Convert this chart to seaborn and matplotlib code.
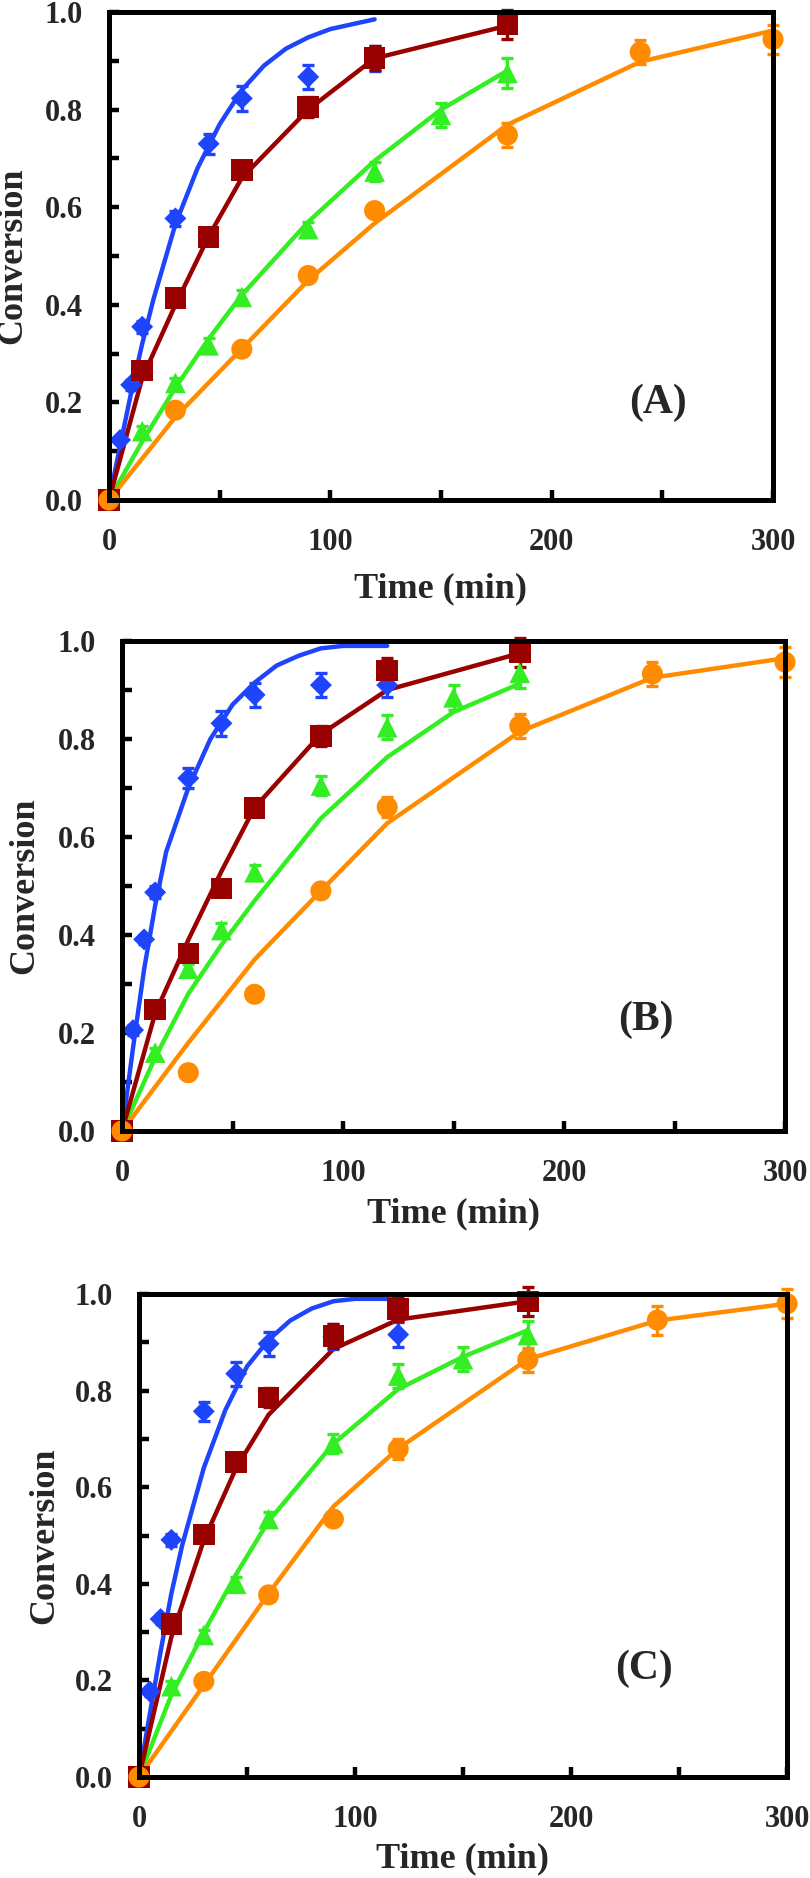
"""Conversion vs. time for three conditions (A, B, C): experimental points with error bars and model curves."""
import matplotlib

matplotlib.use("Agg")
import matplotlib.pyplot as plt
import pandas as pd
import seaborn as sns
from matplotlib.ticker import FormatStrFormatter, MultipleLocator

# ---- sampling times (min) ----
t_blue = [0, 5, 10, 15, 30, 45, 60, 90, 120]
t_red = [0, 15, 30, 45, 60, 90, 120, 180]
t_green = [0, 15, 30, 45, 60, 90, 120, 150, 180]
t_orange = [0, 30, 60, 90, 120, 180, 240, 300]

fit_t_blue = [0, 5, 10, 15, 20, 30, 40, 50, 60, 70, 80, 90, 100, 110, 120]
fit_t_red = t_red
fit_t_green = t_green
fit_t_orange = t_orange

# ---- panel A ----
a_blue = [0, 0.123, 0.236, 0.355, 0.577, 0.73, 0.823, 0.867, 0.905]
a_blue_err = [0, 0.005, 0.01, 0.012, 0.015, 0.02, 0.025, 0.025, 0.025]
a_blue_fit = [0, 0.11, 0.22, 0.32, 0.41, 0.565, 0.68, 0.77, 0.84, 0.89, 0.925, 0.948, 0.965, 0.975, 0.985]
a_red = [0, 0.265, 0.414, 0.539, 0.676, 0.805, 0.906, 0.974]
a_red_err = [0, 0.01, 0.01, 0.01, 0.015, 0.02, 0.025, 0.03]
a_red_fit = [0, 0.25, 0.40, 0.54, 0.66, 0.80, 0.905, 0.972]
a_green = [0, 0.141, 0.24, 0.317, 0.416, 0.555, 0.673, 0.789, 0.875]
a_green_err = [0, 0.01, 0.01, 0.015, 0.015, 0.015, 0.02, 0.025, 0.03]
a_green_fit = [0, 0.12, 0.23, 0.33, 0.42, 0.57, 0.695, 0.80, 0.88]
a_orange = [0, 0.184, 0.309, 0.46, 0.593, 0.748, 0.918, 0.944]
a_orange_err = [0, 0.01, 0.01, 0.01, 0.01, 0.025, 0.025, 0.03]
a_orange_fit = [0, 0.17, 0.31, 0.45, 0.567, 0.769, 0.898, 0.962]

# ---- panel B ----
b_blue = [0, 0.206, 0.391, 0.487, 0.72, 0.832, 0.89, 0.91, 0.91]
b_blue_err = [0, 0.01, 0.01, 0.012, 0.02, 0.025, 0.025, 0.025, 0.025]
b_blue_fit = [0, 0.17, 0.33, 0.46, 0.57, 0.70, 0.80, 0.87, 0.915, 0.95, 0.97, 0.985, 0.99, 0.99, 0.99]
b_red = [0, 0.248, 0.362, 0.495, 0.659, 0.806, 0.94, 0.977]
b_red_err = [0, 0.01, 0.01, 0.01, 0.015, 0.02, 0.025, 0.03]
b_red_fit = [0, 0.24, 0.39, 0.53, 0.66, 0.81, 0.90, 0.975]
b_green = [0, 0.16, 0.331, 0.41, 0.528, 0.705, 0.824, 0.885, 0.935]
b_green_err = [0, 0.01, 0.01, 0.015, 0.015, 0.02, 0.025, 0.025, 0.03]
b_green_fit = [0, 0.15, 0.28, 0.38, 0.47, 0.638, 0.763, 0.855, 0.913]
b_orange = [0, 0.119, 0.279, 0.49, 0.661, 0.827, 0.933, 0.957]
b_orange_err = [0, 0.005, 0.01, 0.01, 0.02, 0.025, 0.025, 0.03]
b_orange_fit = [0, 0.18, 0.35, 0.49, 0.628, 0.815, 0.925, 0.965]

# ---- panel C ----
c_blue = [0, 0.177, 0.327, 0.491, 0.757, 0.835, 0.897, 0.912, 0.916]
c_blue_err = [0, 0.01, 0.01, 0.012, 0.02, 0.025, 0.025, 0.025, 0.025]
c_blue_fit = [0, 0.13, 0.26, 0.38, 0.48, 0.64, 0.76, 0.85, 0.905, 0.945, 0.97, 0.985, 0.99, 0.99, 0.99]
c_red = [0, 0.317, 0.502, 0.652, 0.786, 0.913, 0.969, 0.984]
c_red_err = [0, 0.01, 0.01, 0.01, 0.02, 0.025, 0.025, 0.03]
c_red_fit = [0, 0.29, 0.49, 0.64, 0.75, 0.886, 0.947, 0.985]
c_green = [0, 0.188, 0.294, 0.40, 0.534, 0.691, 0.831, 0.865, 0.915]
c_green_err = [0, 0.01, 0.01, 0.015, 0.015, 0.02, 0.025, 0.025, 0.03]
c_green_fit = [0, 0.17, 0.30, 0.42, 0.53, 0.69, 0.803, 0.87, 0.925]
c_orange = [0, 0.198, 0.377, 0.534, 0.679, 0.864, 0.946, 0.98]
c_orange_err = [0, 0.01, 0.01, 0.01, 0.02, 0.025, 0.03, 0.03]
c_orange_fit = [0, 0.19, 0.38, 0.56, 0.68, 0.865, 0.945, 0.98]

panel_labels = ["(A)", "(B)", "(C)"]
label_xy = [(248, 0.2), (237, 0.227), (234, 0.224)]

BLUE = "#1f45fc"
RED = "#990000"
GREEN = "#33ee22"
ORANGE = "#ff8c00"

sns.set_style("ticks")
plt.rcParams["font.family"] = ["Liberation Serif", "DejaVu Serif"]
plt.rcParams["font.weight"] = "bold"

W, H = 810, 1878
fig = plt.figure(figsize=(W / 100, H / 100), dpi=100)

# axes boxes in pixels: left, right, top, bottom
boxes = [(109, 773, 12, 500), (122, 785, 641, 1131), (139, 787, 1294, 1777)]
ylab_x = [13, 25, 45]
xlab_y = [589, 1214, 1859]

# marker style per series: (marker, size)
mk_blue = ("D", 125)
mk_green = ("^", 220)
mk_red = ("s", 240)
mk_orange = ("o", 230)

panels = [
    [(t_blue, a_blue, a_blue_err, fit_t_blue, a_blue_fit, BLUE, mk_blue),
     (t_green, a_green, a_green_err, fit_t_green, a_green_fit, GREEN, mk_green),
     (t_red, a_red, a_red_err, fit_t_red, a_red_fit, RED, mk_red),
     (t_orange, a_orange, a_orange_err, fit_t_orange, a_orange_fit, ORANGE, mk_orange)],
    [(t_blue, b_blue, b_blue_err, fit_t_blue, b_blue_fit, BLUE, mk_blue),
     (t_green, b_green, b_green_err, fit_t_green, b_green_fit, GREEN, mk_green),
     (t_red, b_red, b_red_err, fit_t_red, b_red_fit, RED, mk_red),
     (t_orange, b_orange, b_orange_err, fit_t_orange, b_orange_fit, ORANGE, mk_orange)],
    [(t_blue, c_blue, c_blue_err, fit_t_blue, c_blue_fit, BLUE, mk_blue),
     (t_green, c_green, c_green_err, fit_t_green, c_green_fit, GREEN, mk_green),
     (t_red, c_red, c_red_err, fit_t_red, c_red_fit, RED, mk_red),
     (t_orange, c_orange, c_orange_err, fit_t_orange, c_orange_fit, ORANGE, mk_orange)],
]

for i, (box, series) in enumerate(zip(boxes, panels)):
    l, r, t, b = box
    ax = fig.add_axes([l / W, 1 - b / H, (r - l) / W, (b - t) / H])
    for tx, y, err, ft, fy, col, (mk, s) in series:
        fit = pd.DataFrame({"t": ft, "y": fy})
        sns.lineplot(data=fit, x="t", y="y", ax=ax, color=col, lw=3.2, zorder=2)
        ax.errorbar(tx, y, yerr=err, fmt="none", ecolor=col, elinewidth=2.4,
                    capsize=4.5, capthick=2.4, zorder=3, clip_on=False)
        sns.scatterplot(x=tx, y=y, ax=ax, marker=mk, s=s, color=col,
                        edgecolor="none", linewidth=0, zorder=4, clip_on=False)

    ax.set_xlim(0, 300)
    ax.set_ylim(0, 1)
    ax.xaxis.set_major_locator(MultipleLocator(100))
    ax.xaxis.set_minor_locator(MultipleLocator(50))
    ax.yaxis.set_major_locator(MultipleLocator(0.2))
    ax.yaxis.set_minor_locator(MultipleLocator(0.1))
    ax.yaxis.set_major_formatter(FormatStrFormatter("%.1f"))
    ax.xaxis.set_major_formatter(FormatStrFormatter("%d"))
    ax.tick_params(which="both", direction="in", length=7, width=3.2,
                   top=False, right=False, color="black")
    ax.tick_params(axis="y", which="major", pad=19, labelsize=22)
    ax.tick_params(axis="x", which="major", pad=20, labelsize=22)
    for lab in ax.get_xticklabels() + ax.get_yticklabels():
        lab.set_fontweight("bold")
    for sp in ax.spines.values():
        sp.set_visible(True)
        sp.set_linewidth(3.6)
        sp.set_color("black")
        sp.set_zorder(5)

    ax.set_xlabel("Time (min)", fontsize=26, fontweight="bold", va="center")
    ax.set_ylabel("Conversion", fontsize=26, fontweight="bold", va="center")
    ax.xaxis.set_label_coords(0.5, (b - xlab_y[i]) / (b - t))
    ax.yaxis.set_label_coords((ylab_x[i] - l) / (r - l), 0.5)

    lx, ly = label_xy[i]
    ax.text(lx, ly, panel_labels[i], fontsize=30, fontweight="bold",
            ha="center", va="center")

fig.savefig("out.png", dpi=100)
